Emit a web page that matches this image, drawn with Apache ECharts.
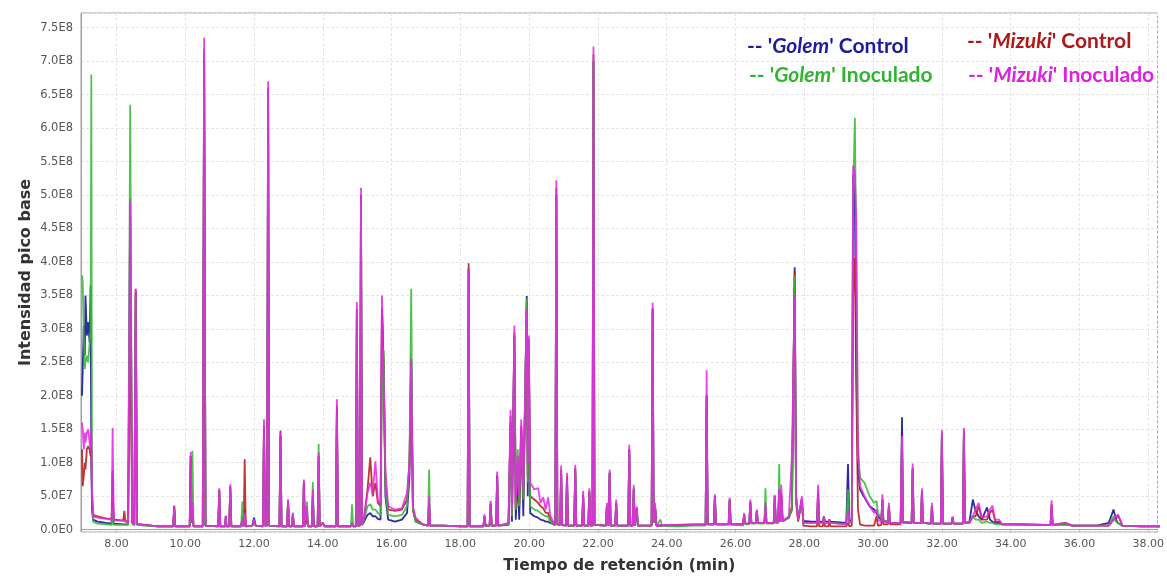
<!DOCTYPE html>
<html>
<head>
<meta charset="utf-8">
<script src="https://cdn.jsdelivr.net/npm/echarts@6/dist/echarts.min.js"></script>
<style>
html,body{margin:0;padding:0;background:#fff;}
#c{width:1167px;height:579px;}
</style>
</head>
<body>
<div id="c"></div>
<script>
// Retention time (min)
const times = [
7.00,7.02,7.05,7.08,7.10,7.14,7.18,7.22,7.25,7.27,
7.29,7.32,7.45,7.70,7.86,7.89,7.92,8.20,8.23,8.26,
8.34,8.40,8.46,8.52,8.56,8.60,8.80,9.20,9.65,9.68,
9.71,10.13,10.16,10.19,10.21,10.24,10.51,10.55,10.59,10.96,
10.99,11.02,11.16,11.18,11.20,11.28,11.31,11.34,11.63,11.66,
11.70,11.73,11.76,11.95,12.00,12.05,12.26,12.29,12.32,12.38,
12.41,12.44,12.74,12.77,12.80,12.96,12.99,13.02,13.10,13.13,
13.16,13.42,13.45,13.48,13.51,13.54,13.57,13.68,13.71,13.74,
13.85,13.88,13.91,14.00,14.05,14.38,14.41,14.44,14.82,14.85,
14.88,14.96,14.99,15.02,15.08,15.11,15.14,15.20,15.30,15.38,
15.45,15.53,15.60,15.68,15.72,15.77,15.82,15.90,16.10,16.30,
16.45,16.52,16.57,16.62,16.70,16.90,17.06,17.09,17.12,17.50,
18.00,18.21,18.24,18.27,18.50,18.67,18.70,18.73,18.85,18.88,
18.91,19.04,19.07,19.10,19.40,19.46,19.50,19.57,19.61,19.67,
19.71,19.77,19.83,19.93,19.96,19.99,20.03,20.15,20.26,20.33,
20.41,20.48,20.55,20.62,20.70,20.76,20.79,20.82,20.90,20.93,
20.96,21.07,21.10,21.13,21.31,21.34,21.37,21.54,21.57,21.60,
21.72,21.75,21.78,21.84,21.87,21.90,22.23,22.26,22.30,22.34,
22.37,22.50,22.53,22.56,22.88,22.91,22.94,23.01,23.04,23.07,
23.13,23.16,23.56,23.59,23.62,23.66,23.70,23.82,23.86,24.30,
24.80,25.13,25.16,25.19,25.37,25.40,25.43,25.80,25.83,25.86,
26.22,26.25,26.28,26.40,26.43,26.46,26.59,26.62,26.65,26.84,
26.87,26.90,27.11,27.14,27.17,27.24,27.27,27.30,27.33,27.37,
27.55,27.64,27.72,27.76,27.82,27.93,27.97,28.20,28.37,28.40,
28.43,28.54,28.57,28.60,28.70,28.73,28.76,29.22,29.27,29.31,
29.38,29.42,29.47,29.51,29.56,29.62,29.75,29.90,30.03,30.10,
30.14,30.24,30.27,30.30,30.43,30.46,30.49,30.80,30.84,30.87,
31.12,31.15,31.18,31.39,31.42,31.45,31.68,31.71,31.74,31.97,
32.00,32.03,32.28,32.31,32.34,32.61,32.64,32.67,32.80,32.90,
32.98,33.07,33.16,33.31,33.40,33.47,33.55,33.66,33.75,34.30,
35.00,35.16,35.19,35.22,35.60,35.80,36.50,36.85,36.99,37.06,
37.12,37.25,37.80,38.40
];
// Base peak intensity, in units of 1E8
const golemControl = [
2.0,2.4,3.05,2.6,3.5,2.9,3.1,2.8,3.65,1.0,
0.3,0.15,0.12,0.10,0.09,0.88,0.09,0.08,0.10,0.08,
0.08,4.95,0.10,0.07,3.55,0.08,0.07,0.05,0.05,0.33,
0.05,0.05,1.10,0.10,0.30,0.05,0.05,7.0,0.06,0.05,
0.58,0.05,0.05,0.20,0.05,0.05,0.65,0.05,0.05,0.20,
0.05,0.30,0.05,0.06,0.18,0.06,0.05,1.50,0.06,0.06,
6.5,0.06,0.05,1.40,0.05,0.05,0.42,0.05,0.05,0.22,
0.05,0.05,0.70,0.05,0.05,0.20,0.05,0.05,0.50,0.05,
0.05,1.10,0.05,0.10,0.05,0.05,1.80,0.05,0.05,0.10,
0.05,0.05,3.20,0.06,0.06,5.00,0.07,0.12,0.22,0.25,
0.20,0.20,0.16,0.15,3.30,2.40,0.50,0.15,0.12,0.15,
0.25,0.80,2.50,0.30,0.12,0.08,0.06,0.40,0.06,0.06,
0.05,0.05,3.90,0.05,0.05,0.05,0.20,0.06,0.06,0.38,
0.06,0.06,0.80,0.06,0.07,1.60,0.12,2.90,0.15,0.80,
0.15,1.50,0.20,3.49,0.50,2.70,0.25,0.20,0.18,0.15,
0.14,0.12,0.12,0.10,0.08,0.07,5.00,0.08,0.07,0.85,
0.07,0.06,0.80,0.06,0.06,0.90,0.06,0.06,0.50,0.06,
0.06,0.55,0.06,0.06,7.00,0.07,0.06,0.35,0.06,0.85,
0.06,0.06,0.40,0.06,0.06,1.20,0.06,0.06,0.60,0.06,
0.32,0.06,0.06,3.30,0.10,0.35,0.06,0.06,0.06,0.06,
0.07,0.07,2.00,0.08,0.08,0.50,0.08,0.08,0.45,0.08,
0.08,0.22,0.09,0.09,0.40,0.10,0.10,0.28,0.10,0.10,
0.35,0.10,0.10,0.50,0.11,0.11,0.60,0.12,0.50,0.13,
0.18,0.30,3.92,0.50,0.15,0.45,0.13,0.12,0.12,0.55,
0.12,0.12,0.20,0.12,0.12,0.15,0.12,0.10,0.98,0.12,
0.15,5.30,4.90,2.50,0.90,0.60,0.48,0.35,0.30,0.25,
0.20,0.15,0.45,0.13,0.12,0.35,0.10,0.10,1.68,0.12,
0.10,0.90,0.10,0.10,0.55,0.10,0.09,0.35,0.09,0.09,
1.40,0.09,0.09,0.18,0.09,0.09,1.45,0.10,0.12,0.45,
0.28,0.20,0.15,0.33,0.15,0.12,0.10,0.10,0.08,0.08,
0.07,0.07,0.35,0.07,0.08,0.06,0.06,0.10,0.30,0.15,
0.10,0.06,0.05,0.05
];
const mizukiControl = [
1.2,0.65,0.8,1.0,0.9,1.2,1.25,1.2,1.1,1.2,
0.5,0.22,0.20,0.17,0.16,0.5,0.15,0.14,0.28,0.13,
0.12,3.05,0.10,0.08,3.6,0.08,0.07,0.05,0.05,0.36,
0.05,0.05,1.10,0.10,0.30,0.05,0.05,7.1,0.06,0.05,
0.60,0.05,0.05,0.18,0.05,0.05,0.62,0.05,0.05,0.20,
0.05,1.05,0.05,0.06,0.12,0.06,0.05,1.55,0.06,0.06,
6.6,0.06,0.05,1.48,0.05,0.05,0.40,0.05,0.05,0.22,
0.05,0.05,0.72,0.05,0.05,0.20,0.05,0.05,0.50,0.05,
0.05,1.10,0.05,0.10,0.05,0.05,1.85,0.05,0.05,0.10,
0.05,0.05,3.30,0.06,0.06,5.00,0.07,0.15,0.60,1.08,
0.50,0.70,0.40,0.35,3.30,2.50,0.70,0.30,0.28,0.30,
0.45,1.00,2.55,0.30,0.15,0.08,0.06,0.40,0.06,0.06,
0.05,0.05,3.98,0.05,0.05,0.05,0.20,0.06,0.06,0.40,
0.06,0.06,0.82,0.06,0.08,1.70,0.20,2.95,0.30,1.00,
0.35,1.55,0.45,3.40,0.80,2.85,0.50,0.45,0.40,0.35,
0.32,0.25,0.25,0.15,0.10,0.07,5.10,0.08,0.07,0.90,
0.07,0.06,0.80,0.06,0.06,0.92,0.06,0.06,0.52,0.06,
0.06,0.58,0.06,0.06,7.10,0.07,0.06,0.35,0.06,0.85,
0.06,0.06,0.40,0.06,0.06,1.20,0.06,0.06,0.62,0.06,
0.30,0.06,0.06,3.30,0.10,0.35,0.06,0.06,0.06,0.07,
0.08,0.08,2.01,0.08,0.08,0.50,0.08,0.08,0.45,0.08,
0.08,0.22,0.09,0.09,0.42,0.10,0.10,0.28,0.10,0.10,
0.35,0.10,0.10,0.50,0.11,0.11,0.60,0.12,0.55,0.13,
0.18,0.35,3.85,0.40,0.12,0.45,0.06,0.05,0.05,0.60,
0.05,0.05,0.18,0.05,0.05,0.12,0.05,0.05,0.10,0.05,
0.06,3.50,4.06,2.20,0.30,0.08,0.06,0.06,0.06,0.20,
0.06,0.07,0.45,0.08,0.08,0.35,0.08,0.08,1.30,0.10,
0.10,0.92,0.10,0.10,0.58,0.10,0.09,0.35,0.09,0.09,
1.45,0.09,0.09,0.18,0.09,0.09,1.48,0.10,0.10,0.20,
0.20,0.35,0.15,0.15,0.25,0.30,0.12,0.12,0.08,0.08,
0.07,0.07,0.38,0.07,0.10,0.06,0.06,0.06,0.15,0.15,
0.22,0.06,0.05,0.05
];
const golemInoculado = [
3.8,3.7,2.9,2.4,2.5,2.6,2.5,2.8,3.0,6.8,
0.6,0.12,0.09,0.08,0.07,0.3,0.07,0.07,0.08,0.07,
0.07,6.35,0.10,0.06,3.5,0.07,0.06,0.05,0.05,0.30,
0.05,0.05,0.50,0.30,1.18,0.05,0.05,7.2,0.06,0.05,
0.55,0.05,0.05,0.20,0.05,0.05,0.60,0.05,0.05,0.42,
0.05,0.20,0.05,0.06,0.10,0.06,0.05,1.40,0.06,0.06,
6.5,0.06,0.05,1.35,0.05,0.05,0.45,0.05,0.05,0.25,
0.05,0.05,0.55,0.05,0.05,0.42,0.05,0.05,0.71,0.05,
0.05,1.28,0.05,0.10,0.05,0.05,1.70,0.05,0.05,0.38,
0.05,0.05,3.20,0.06,0.06,4.90,0.07,0.15,0.35,0.38,
0.30,0.30,0.25,0.22,2.00,2.68,0.60,0.22,0.20,0.22,
0.35,1.00,3.60,0.30,0.12,0.08,0.06,0.90,0.06,0.06,
0.05,0.05,3.90,0.05,0.05,0.05,0.20,0.06,0.06,0.35,
0.06,0.06,0.75,0.06,0.08,1.60,0.20,2.90,0.30,1.20,
0.35,1.40,0.45,3.45,0.70,2.80,0.35,0.30,0.28,0.25,
0.22,0.20,0.20,0.12,0.08,0.07,5.00,0.08,0.07,0.85,
0.07,0.06,0.75,0.06,0.06,0.90,0.06,0.06,0.50,0.06,
0.06,0.55,0.06,0.06,7.00,0.07,0.06,0.35,0.06,0.82,
0.06,0.06,0.40,0.06,0.06,1.15,0.06,0.06,0.60,0.06,
0.30,0.06,0.06,3.25,0.10,0.35,0.06,0.15,0.06,0.05,
0.06,0.06,1.95,0.08,0.08,0.48,0.08,0.08,0.43,0.08,
0.06,0.22,0.08,0.08,0.40,0.09,0.09,0.28,0.09,0.09,
0.62,0.09,0.09,0.48,0.10,0.10,0.98,0.11,0.40,0.12,
0.18,0.30,3.80,0.50,0.15,0.45,0.10,0.10,0.10,0.50,
0.10,0.10,0.20,0.10,0.10,0.15,0.10,0.08,0.60,0.10,
0.12,5.00,6.15,4.00,1.10,0.78,0.70,0.50,0.40,0.43,
0.25,0.17,0.45,0.13,0.12,0.35,0.10,0.10,1.35,0.12,
0.10,0.90,0.10,0.10,0.55,0.10,0.09,0.35,0.09,0.09,
1.40,0.09,0.09,0.18,0.09,0.09,1.45,0.10,0.12,0.20,
0.15,0.15,0.10,0.12,0.10,0.10,0.08,0.08,0.08,0.07,
0.07,0.07,0.35,0.07,0.07,0.06,0.06,0.06,0.20,0.12,
0.10,0.06,0.05,0.05
];
const mizukiInoculado = [
1.6,1.5,1.2,1.45,1.3,1.45,1.5,1.3,1.2,1.5,
0.6,0.20,0.18,0.16,0.15,1.52,0.14,0.13,0.14,0.12,
0.10,4.9,0.10,0.08,3.58,0.09,0.07,0.05,0.05,0.35,
0.05,0.05,1.16,0.10,0.40,0.05,0.05,7.35,0.06,0.05,
0.62,0.05,0.05,0.21,0.05,0.05,0.68,0.05,0.05,0.15,
0.05,0.25,0.05,0.06,0.15,0.06,0.05,1.65,0.06,0.06,
6.7,0.06,0.05,1.45,0.05,0.05,0.45,0.05,0.05,0.25,
0.05,0.05,0.75,0.05,0.05,0.35,0.05,0.05,0.60,0.05,
0.05,1.15,0.05,0.10,0.05,0.05,1.95,0.05,0.05,0.10,
0.05,0.05,3.40,0.06,0.06,5.11,0.07,0.20,0.55,0.70,
0.55,1.02,0.45,0.38,3.50,2.20,0.90,0.35,0.30,0.32,
0.55,1.00,2.55,0.35,0.18,0.08,0.06,0.50,0.06,0.06,
0.05,0.05,3.90,0.05,0.05,0.05,0.23,0.06,0.06,0.43,
0.06,0.06,0.87,0.06,0.10,1.79,0.30,3.05,0.40,1.10,
0.50,1.65,0.60,3.30,1.00,2.90,0.70,0.60,0.62,0.40,
0.48,0.30,0.48,0.20,0.12,0.07,5.22,0.08,0.07,0.96,
0.07,0.06,0.85,0.06,0.06,0.97,0.06,0.06,0.58,0.06,
0.06,0.62,0.06,0.06,7.22,0.07,0.06,0.40,0.06,0.90,
0.06,0.06,0.45,0.06,0.06,1.27,0.06,0.06,0.67,0.06,
0.35,0.06,0.06,3.39,0.10,0.40,0.06,0.07,0.06,0.07,
0.08,0.08,2.38,0.08,0.08,0.53,0.08,0.08,0.48,0.08,
0.08,0.25,0.09,0.09,0.45,0.10,0.10,0.30,0.10,0.10,
0.40,0.10,0.10,0.52,0.11,0.11,0.60,0.12,0.67,0.13,
0.20,1.12,3.50,0.50,0.15,0.50,0.10,0.10,0.10,0.67,
0.10,0.10,0.20,0.10,0.10,0.15,0.10,0.08,0.30,0.10,
0.12,5.44,5.30,4.62,1.30,0.65,0.50,0.35,0.25,0.30,
0.15,0.12,0.53,0.12,0.10,0.40,0.10,0.10,1.40,0.12,
0.10,0.99,0.10,0.10,0.62,0.10,0.09,0.40,0.09,0.09,
1.49,0.09,0.09,0.20,0.09,0.09,1.52,0.10,0.10,0.20,
0.30,0.40,0.18,0.20,0.30,0.36,0.15,0.15,0.08,0.08,
0.07,0.07,0.44,0.07,0.10,0.06,0.06,0.06,0.15,0.20,
0.22,0.06,0.05,0.05
];

const seriesNames = ["'Golem' Control", "'Mizuki' Control", "'Golem' Inoculado", "'Mizuki' Inoculado"];
const seriesValues = [golemControl, mizukiControl, golemInoculado, mizukiInoculado];
const lineColors = ['#10108f', '#b51a1a', '#35b835', '#e628e6'];
const textColors = ['#1c1c9c', '#b01818', '#2fb52f', '#e020e0'];
const legendPos = [[737, 31], [957, 26], [739, 60], [958, 60]];

const chart = echarts.init(document.getElementById('c'), null, {renderer: 'canvas'});

const legends = seriesNames.map((n, i) => ({
  data: [{name: n, textStyle: {color: textColors[i]}}],
  left: legendPos[i][0], top: legendPos[i][1],
  icon: 'none', itemWidth: 0, itemHeight: 0,
  selectedMode: false,
  formatter: (name) => {
    const parts = name.split("'");
    return "-- '{it|" + parts[1] + "}'" + parts[2];
  },
  textStyle: {
    fontFamily: 'Lato', fontSize: 21, fontWeight: 'bold', color: textColors[i],
    rich: {it: {fontFamily: 'Lato', fontSize: 21, fontWeight: 'bold', fontStyle: 'italic', color: textColors[i]}}
  }
}));

const series = seriesNames.map((n, i) => ({
  name: n,
  type: 'line',
  data: times.map((t, k) => [t, seriesValues[i][k]]),
  showSymbol: false,
  symbol: 'none',
  sampling: null,
  lineStyle: {color: lineColors[i], width: 1.8, opacity: 0.88},
  itemStyle: {color: lineColors[i]},
  animation: false,
  z: 2 + i
}));

chart.setOption({
  backgroundColor: '#fff',
  animation: false,
  legend: legends,
  grid: {left: 81, right: 1, top: 13, bottom: 44, show: true, borderColor: '#a0a0a0', borderWidth: 1, backgroundColor: 'transparent'},
  xAxis: {
    type: 'value', min: 6.97, max: 38.27, splitNumber: 15,
    name: 'Tiempo de retención (min)', nameLocation: 'middle', nameGap: 26,
    nameTextStyle: {fontFamily: 'DejaVu Sans', fontWeight: 'bold', fontSize: 15.5, color: '#333'},
    axisLine: {show: true, lineStyle: {color: '#a0a0a0'}},
    axisTick: {show: true, length: 3, lineStyle: {color: '#c0c0c0'}},
    axisLabel: {fontFamily: 'DejaVu Sans', fontSize: 11, color: '#555', margin: 7,
      showMinLabel: false, showMaxLabel: false,
      formatter: (v) => v.toFixed(2)},
    splitLine: {show: true, lineStyle: {color: '#e4e4e4', type: [3, 2]}}
  },
  yAxis: {
    type: 'value', min: -0.035, max: 7.72, splitNumber: 15,
    name: 'Intensidad pico base', nameLocation: 'middle', nameGap: 47, nameMoveOverlap: false,
    nameTextStyle: {fontFamily: 'DejaVu Sans', fontWeight: 'bold', fontSize: 16, color: '#333'},
    axisLine: {show: true, lineStyle: {color: '#a0a0a0'}},
    axisTick: {show: false},
    axisLabel: {fontFamily: 'DejaVu Sans', fontSize: 11.5, color: '#555', margin: 8,
      showMinLabel: false, showMaxLabel: false,
      formatter: (v) => (v * 1e8).toExponential(1).replace('e+', 'E')},
    splitLine: {show: true, lineStyle: {color: '#e4e4e4', type: [3, 2]}}
  },
  series: series
});
</script>
</body>
</html>
